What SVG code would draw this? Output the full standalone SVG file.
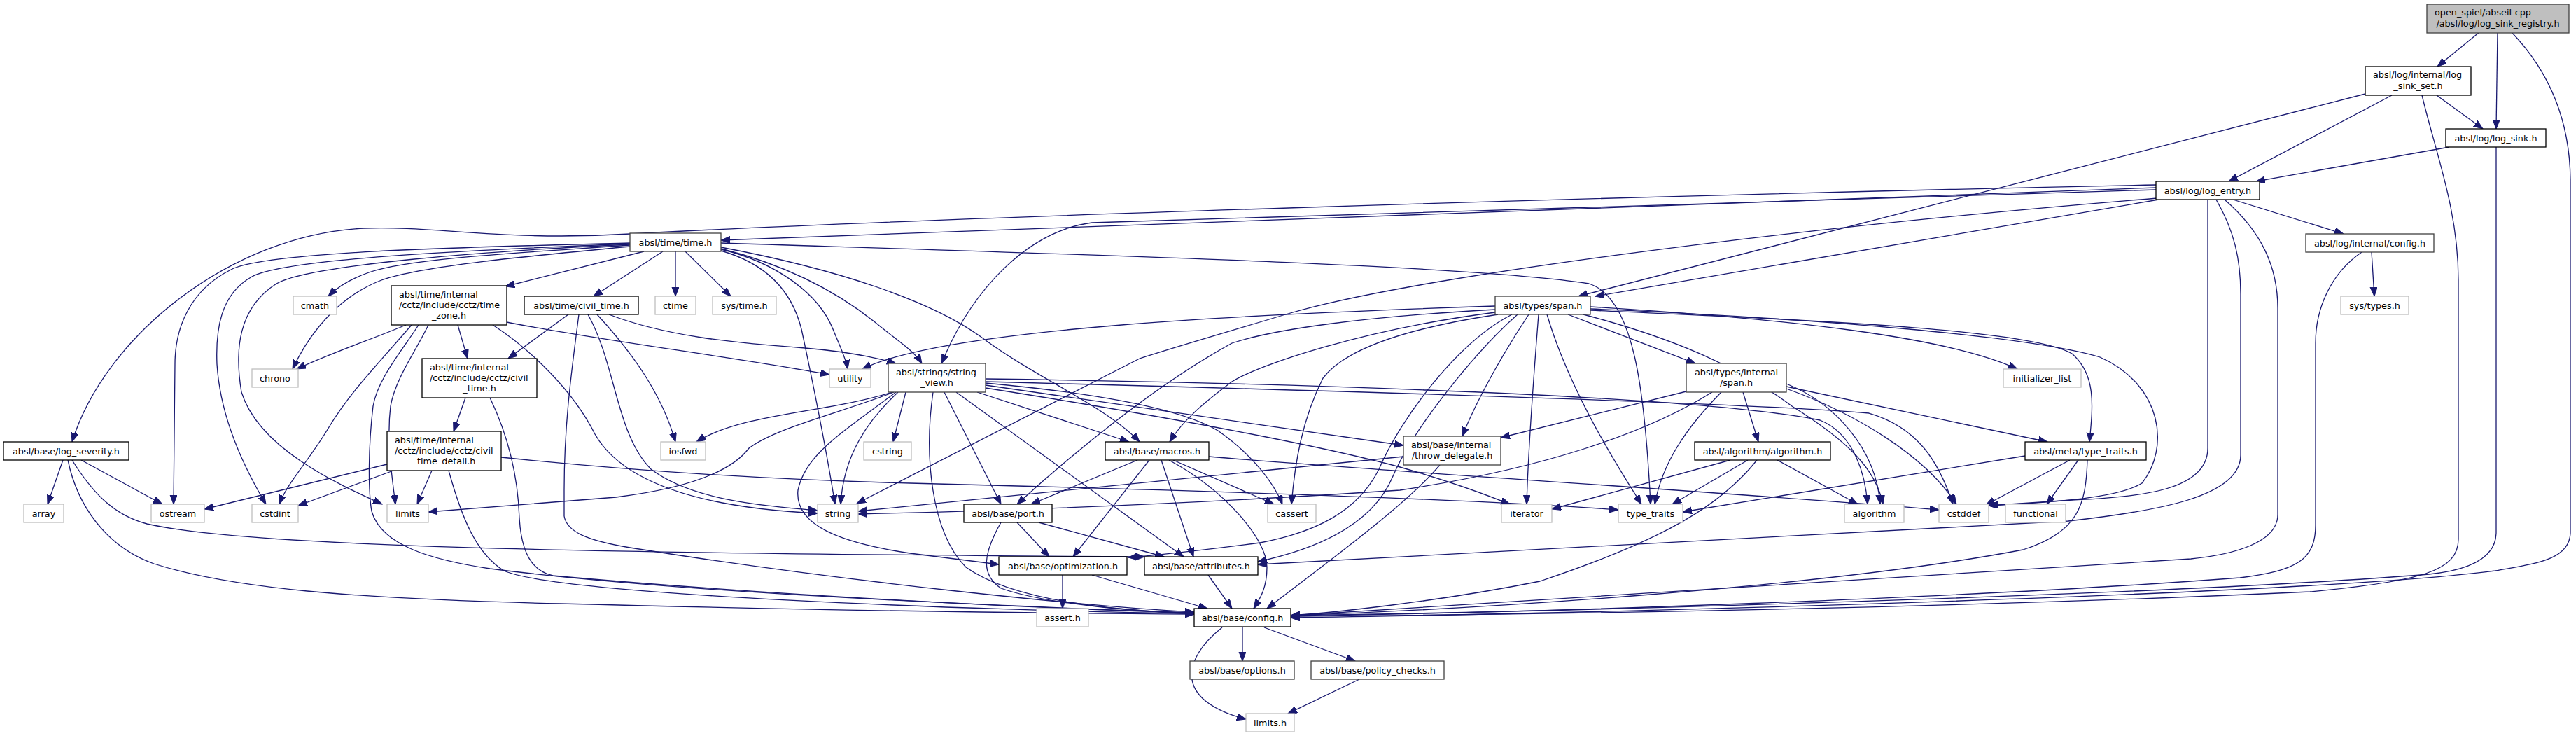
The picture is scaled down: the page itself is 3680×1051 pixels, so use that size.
<svg xmlns="http://www.w3.org/2000/svg" width="3680" height="1051" viewBox="0 0 3680 1051">
<style>
rect{fill:#fff;stroke:#000;stroke-width:1.3}
.g rect{stroke:#404040}
.s rect{stroke:#bfbfbf}
.r rect{fill:#bfbfbf;stroke:#404040}
text{font-family:"DejaVu Sans",sans-serif;font-size:12.8px;fill:#000}
.c{text-anchor:middle}
#edges path{fill:none;stroke:#191970;stroke-width:1.3;marker-end:url(#ah)}
</style>
<defs>
<marker id="ah" markerUnits="userSpaceOnUse" markerWidth="14" markerHeight="11" refX="13" refY="5" orient="auto">
<path d="M0,0 L13,5 L0,10 z" fill="#191970" stroke="#191970" stroke-width="1"/>
</marker>
</defs>
<rect x="0" y="0" width="3680" height="1051" style="fill:#fff;stroke:none"/>
<g id="edges">
<path d="M3542,46 L3482,95"/>
<path d="M3568,46 L3566,184"/>
<path d="M3588,46 C3640,100 3672,170 3672,260 L3672,760 C3672,800 3620,805 3565,815 C3300,850 2200,878 1844,882"/>
<path d="M3379,134 L2255,423"/>
<path d="M3417,136 L3184,259"/>
<path d="M3481,136 L3547,184"/>
<path d="M3460,136 C3480,220 3512,300 3512,400 L3512,770 C3512,815 3460,830 3300,845 C2800,868 2200,878 1844,880"/>
<path d="M3499,210 L3223,259"/>
<path d="M3566,210 L3566,760 C3566,800 3520,815 3470,820 C3100,850 2200,874 1844,879"/>
<path d="M3190,285 L3348,334"/>
<path d="M3084,285 L2279,423"/>
<path d="M3154,285 L3154,640 C3154,700 3060,710 2960,714 L2841,722"/>
<path d="M3166,285 C3192,330 3201,370 3201,420 L3201,650 C3201,710 3080,730 2955,744 L1797,806"/>
<path d="M3178,285 C3230,330 3254,380 3254,440 L3254,735 C3254,775 3190,792 3130,798 L1844,879"/>
<path d="M3080,268 L1030,343"/>
<path d="M3080,264 C2300,280 1300,312 900,334 C720,345 620,322 520,326 C330,335 150,480 103,631"/>
<path d="M3080,271 L1560,318 C1470,330 1390,410 1345,519"/>
<path d="M3082,283 C2500,330 2000,400 1840,448 C1750,475 1680,495 1628,512 L1224,719"/>
<path d="M3388,360 L3392,423"/>
<path d="M3374,360 C3330,390 3308,440 3308,490 L3308,750 C3308,800 3280,815 3200,825 C2800,855 2200,874 1844,880"/>
<path d="M920,359 L722,409"/>
<path d="M947,359 L848,423"/>
<path d="M965,359 L965,423"/>
<path d="M979,359 L1044,423"/>
<path d="M900,350 C760,360 590,368 530,388 C500,398 482,410 469,423"/>
<path d="M900,352 C760,365 600,380 545,400 C480,425 440,480 418,527"/>
<path d="M900,347 C700,352 380,358 330,385 C270,415 250,470 250,520 L248,720"/>
<path d="M900,348 C700,356 410,368 360,395 C315,420 308,470 310,520 C315,600 350,670 380,720"/>
<path d="M900,349 C700,358 440,378 395,405 C340,440 335,500 345,560 C370,640 480,690 546,720"/>
<path d="M1030,358 C1090,375 1130,410 1145,470 C1160,540 1180,640 1193,720"/>
<path d="M1030,356 C1110,375 1170,420 1190,470 C1200,495 1208,510 1211,527"/>
<path d="M1030,355 C1130,380 1200,420 1250,460 C1280,485 1305,500 1317,519"/>
<path d="M1030,353 C1200,385 1330,430 1400,480 C1480,540 1580,580 1628,631"/>
<path d="M1030,347 C1500,362 2100,378 2270,405 C2335,425 2350,560 2358,720"/>
<path d="M812,449 L726,512"/>
<path d="M827,449 C818,520 806,600 806,700 L806,737 C810,760 840,772 900,782 C1200,830 1550,866 1706,874"/>
<path d="M840,449 C880,520 880,620 930,670 C990,715 1090,722 1168,729"/>
<path d="M853,449 C900,500 945,560 965,631"/>
<path d="M870,449 C950,480 1050,490 1150,497 C1210,502 1250,510 1280,519"/>
<path d="M580,464 C530,485 470,505 424,527"/>
<path d="M588,464 C540,520 500,560 470,610 C440,660 410,690 399,720"/>
<path d="M612,464 C595,500 565,540 558,580 C552,630 560,680 565,720"/>
<path d="M598,464 C575,500 540,540 533,580 C526,640 526,700 531,730 C545,780 620,800 700,812 C1000,850 1500,868 1706,875"/>
<path d="M724,460 C850,485 1050,510 1185,535"/>
<path d="M704,464 C760,500 820,560 850,620 C890,690 1000,725 1168,733"/>
<path d="M654,464 L668,512"/>
<path d="M665,568 L648,616"/>
<path d="M700,568 C725,620 740,680 742,740 C745,790 760,815 790,822 C1100,850 1500,870 1706,875"/>
<path d="M553,663 L292,727"/>
<path d="M562,672 L426,722"/>
<path d="M617,672 L596,720"/>
<path d="M641,672 C660,740 680,790 720,815 C800,850 1400,872 1706,876"/>
<path d="M716,653 C900,672 1100,685 1300,690 C1700,700 2100,712 2312,728"/>
<path d="M90,657 L68,720"/>
<path d="M116,657 L232,720"/>
<path d="M103,657 C130,700 160,735 210,748 C350,780 800,790 1635,795"/>
<path d="M97,657 C110,720 150,780 220,805 C330,840 500,855 800,862 C1200,872 1500,876 1706,877"/>
<path d="M1408,541 C1700,545 2400,560 2600,600 C2650,620 2665,680 2668,720"/>
<path d="M1408,545 C1800,555 2500,575 2670,590 C2740,610 2770,660 2790,720"/>
<path d="M1275,560 C1180,590 1060,590 995,631"/>
<path d="M1277,560 C1200,590 1110,610 1070,640 C1040,680 960,700 880,710 C750,720 680,725 612,731"/>
<path d="M1294,560 L1276,631"/>
<path d="M1283,560 C1240,600 1205,650 1201,720"/>
<path d="M1280,560 C1200,620 1150,650 1140,700 C1135,750 1200,775 1300,790 L1427,806"/>
<path d="M1396,560 L1613,631"/>
<path d="M1349,560 L1430,720"/>
<path d="M1366,560 L1691,795"/>
<path d="M1333,560 C1320,650 1330,760 1380,810 C1450,860 1600,872 1706,876"/>
<path d="M1408,550 L2005,636"/>
<path d="M1408,547 C1550,560 1680,580 1740,615 C1790,650 1820,690 1832,720"/>
<path d="M1408,554 C1700,600 1900,640 2000,667 C2080,690 2120,705 2157,720"/>
<path d="M2136,437 C1800,448 1350,468 1232,527"/>
<path d="M2136,442 C1950,452 1820,470 1760,490 C1650,550 1530,650 1453,720"/>
<path d="M2136,446 C1950,470 1800,520 1760,545 C1720,575 1690,600 1671,631"/>
<path d="M2140,449 C2000,470 1920,500 1890,540 C1860,600 1850,660 1845,720"/>
<path d="M2160,449 C2080,490 2000,600 1970,670 C1940,730 1880,760 1800,775 C1700,788 1660,792 1612,796"/>
<path d="M2168,449 C2110,500 2020,610 1990,680 C1965,740 1900,780 1797,802"/>
<path d="M2184,449 C2150,500 2110,570 2089,623"/>
<path d="M2198,449 C2190,550 2183,650 2181,720"/>
<path d="M2210,449 C2240,550 2300,650 2345,720"/>
<path d="M2240,449 L2422,519"/>
<path d="M2262,449 C2380,480 2480,520 2560,580 C2640,630 2680,670 2690,720"/>
<path d="M2272,441 C2600,455 2900,480 3000,510 C3090,550 3100,640 3060,690 C3020,715 2900,718 2841,722"/>
<path d="M2272,438 C2550,455 2780,480 2882,527"/>
<path d="M2272,443 C2600,458 2900,470 2960,505 C2995,535 2990,580 2985,631"/>
<path d="M2409,559 L2144,625"/>
<path d="M2446,560 C2350,620 2200,670 2000,700 C1700,720 1400,730 1226,734"/>
<path d="M2459,560 C2410,610 2375,660 2364,720"/>
<path d="M2490,560 L2512,631"/>
<path d="M2552,548 C2620,575 2680,640 2686,720"/>
<path d="M2552,555 C2650,590 2750,650 2795,720"/>
<path d="M2552,552 L2925,631"/>
<path d="M2472,657 L2217,727"/>
<path d="M2497,657 L2389,720"/>
<path d="M2539,657 L2654,720"/>
<path d="M2510,657 C2460,720 2380,770 2200,830 C2050,860 1900,875 1844,879"/>
<path d="M2893,651 L2404,731"/>
<path d="M2957,657 L2837,721"/>
<path d="M2969,657 L2924,720"/>
<path d="M2982,657 C2980,720 2970,760 2890,785 C2600,840 2100,870 1844,879"/>
<path d="M2005,652 L1226,730"/>
<path d="M2057,664 C2010,720 1900,800 1810,869"/>
<path d="M1676,657 L1820,720"/>
<path d="M1727,652 C2000,675 2500,705 2770,728"/>
<path d="M1659,657 L1705,795"/>
<path d="M1670,657 C1750,700 1810,770 1810,810 C1810,840 1800,855 1791,869"/>
<path d="M1642,657 L1533,795"/>
<path d="M1625,657 L1473,720"/>
<path d="M1453,746 L1499,795"/>
<path d="M1484,746 L1663,795"/>
<path d="M1430,746 C1405,790 1400,820 1430,840 C1500,865 1640,873 1706,877"/>
<path d="M1518,821 L1518,869"/>
<path d="M1560,821 L1725,869"/>
<path d="M1726,821 L1760,869"/>
<path d="M1746,896 C1690,940 1675,1000 1780,1027"/>
<path d="M1775,896 L1775,944"/>
<path d="M1806,896 L1936,944"/>
<path d="M1942,970 L1840,1019"/>
</g>
<g id="n_root" class="r"><rect x="3467" y="6" width="203" height="41"/><text x="3478" y="22">open_spiel/abseil-cpp</text><text x="3568.5" y="37.5" class="c">/absl/log/log_sink_registry.h</text></g>
<g id="n_log_sink_set"><rect x="3379" y="95" width="151" height="41"/><text x="3390" y="111">absl/log/internal/log</text><text x="3454.5" y="126.5" class="c">_sink_set.h</text></g>
<g id="n_log_sink"><rect x="3494" y="184" width="143" height="26"/><text x="3565.5" y="201.5" class="c">absl/log/log_sink.h</text></g>
<g id="n_log_entry"><rect x="3080" y="259" width="148" height="26"/><text x="3154" y="276.5" class="c">absl/log/log_entry.h</text></g>
<g id="n_log_internal_config" class="g"><rect x="3294" y="334" width="183" height="26"/><text x="3385.5" y="351.5" class="c">absl/log/internal/config.h</text></g>
<g id="n_sys_types" class="s"><rect x="3344" y="423" width="97" height="26"/><text x="3392.5" y="440.5" class="c">sys/types.h</text></g>
<g id="n_time" class="g"><rect x="900" y="333" width="130" height="26"/><text x="965" y="350.5" class="c">absl/time/time.h</text></g>
<g id="n_span" class="g"><rect x="2136" y="423" width="136" height="26"/><text x="2204" y="440.5" class="c">absl/types/span.h</text></g>
<g id="n_civil_time"><rect x="749" y="423" width="163" height="26"/><text x="830.5" y="440.5" class="c">absl/time/civil_time.h</text></g>
<g id="n_ctime" class="s"><rect x="936" y="423" width="58" height="26"/><text x="965" y="440.5" class="c">ctime</text></g>
<g id="n_sys_time" class="s"><rect x="1018" y="423" width="91" height="26"/><text x="1063.5" y="440.5" class="c">sys/time.h</text></g>
<g id="n_cmath" class="s"><rect x="419" y="423" width="62" height="26"/><text x="450" y="440.5" class="c">cmath</text></g>
<g id="n_time_zone"><rect x="559" y="408" width="165" height="56"/><text x="570" y="424.5">absl/time/internal</text><text x="570" y="439.5">/cctz/include/cctz/time</text><text x="641.5" y="454.5" class="c">_zone.h</text></g>
<g id="n_chrono" class="s"><rect x="360" y="527" width="66" height="26"/><text x="393" y="544.5" class="c">chrono</text></g>
<g id="n_utility" class="s"><rect x="1185" y="527" width="59" height="26"/><text x="1214.5" y="544.5" class="c">utility</text></g>
<g id="n_initializer_list" class="s"><rect x="2862" y="527" width="111" height="26"/><text x="2917.5" y="544.5" class="c">initializer_list</text></g>
<g id="n_cctz_civil_time"><rect x="603" y="512" width="164" height="56"/><text x="614" y="528.5">absl/time/internal</text><text x="614" y="543.5">/cctz/include/cctz/civil</text><text x="685" y="558.5" class="c">_time.h</text></g>
<g id="n_string_view" class="g"><rect x="1269" y="519" width="139" height="41"/><text x="1280" y="535.5">absl/strings/string</text><text x="1338.5" y="550.5" class="c">_view.h</text></g>
<g id="n_internal_span" class="g"><rect x="2409" y="519" width="143" height="41"/><text x="2421" y="535.5">absl/types/internal</text><text x="2480.5" y="550.5" class="c">/span.h</text></g>
<g id="n_civil_time_detail"><rect x="553" y="616" width="163" height="56"/><text x="564" y="632.5">absl/time/internal</text><text x="564" y="647.5">/cctz/include/cctz/civil</text><text x="634.5" y="662.5" class="c">_time_detail.h</text></g>
<g id="n_log_severity"><rect x="5" y="631" width="179" height="26"/><text x="94.5" y="648.5" class="c">absl/base/log_severity.h</text></g>
<g id="n_iosfwd" class="s"><rect x="944" y="631" width="64" height="26"/><text x="976" y="648.5" class="c">iosfwd</text></g>
<g id="n_cstring" class="s"><rect x="1234" y="631" width="68" height="26"/><text x="1268" y="648.5" class="c">cstring</text></g>
<g id="n_macros"><rect x="1579" y="631" width="148" height="26"/><text x="1653" y="648.5" class="c">absl/base/macros.h</text></g>
<g id="n_throw_delegate" class="g"><rect x="2005" y="623" width="139" height="41"/><text x="2016" y="639.5">absl/base/internal</text><text x="2074.5" y="654.5" class="c">/throw_delegate.h</text></g>
<g id="n_algorithm_h"><rect x="2421" y="631" width="194" height="26"/><text x="2518" y="648.5" class="c">absl/algorithm/algorithm.h</text></g>
<g id="n_meta_type_traits"><rect x="2893" y="631" width="173" height="26"/><text x="2979.5" y="648.5" class="c">absl/meta/type_traits.h</text></g>
<g id="n_array" class="s"><rect x="34" y="720" width="57" height="26"/><text x="62.5" y="737.5" class="c">array</text></g>
<g id="n_ostream" class="s"><rect x="216" y="720" width="76" height="26"/><text x="254" y="737.5" class="c">ostream</text></g>
<g id="n_cstdint" class="s"><rect x="360" y="720" width="66" height="26"/><text x="393" y="737.5" class="c">cstdint</text></g>
<g id="n_limits" class="s"><rect x="553" y="720" width="59" height="26"/><text x="582.5" y="737.5" class="c">limits</text></g>
<g id="n_string" class="s"><rect x="1168" y="720" width="58" height="26"/><text x="1197" y="737.5" class="c">string</text></g>
<g id="n_port"><rect x="1377" y="720" width="126" height="26"/><text x="1440" y="737.5" class="c">absl/base/port.h</text></g>
<g id="n_cassert" class="s"><rect x="1811" y="720" width="69" height="26"/><text x="1845.5" y="737.5" class="c">cassert</text></g>
<g id="n_iterator" class="s"><rect x="2145" y="720" width="72" height="26"/><text x="2181" y="737.5" class="c">iterator</text></g>
<g id="n_type_traits" class="s"><rect x="2312" y="720" width="92" height="26"/><text x="2358" y="737.5" class="c">type_traits</text></g>
<g id="n_algorithm" class="s"><rect x="2635" y="720" width="85" height="26"/><text x="2677.5" y="737.5" class="c">algorithm</text></g>
<g id="n_cstddef" class="s"><rect x="2770" y="720" width="71" height="26"/><text x="2805.5" y="737.5" class="c">cstddef</text></g>
<g id="n_functional" class="s"><rect x="2865" y="720" width="86" height="26"/><text x="2908" y="737.5" class="c">functional</text></g>
<g id="n_optimization"><rect x="1427" y="795" width="183" height="26"/><text x="1518.5" y="812.5" class="c">absl/base/optimization.h</text></g>
<g id="n_attributes"><rect x="1635" y="795" width="162" height="26"/><text x="1716" y="812.5" class="c">absl/base/attributes.h</text></g>
<g id="n_assert_h" class="s"><rect x="1481" y="869" width="74" height="26"/><text x="1518" y="886.5" class="c">assert.h</text></g>
<g id="n_config"><rect x="1706" y="869" width="138" height="26"/><text x="1775" y="886.5" class="c">absl/base/config.h</text></g>
<g id="n_options" class="g"><rect x="1700" y="944" width="149" height="26"/><text x="1774.5" y="961.5" class="c">absl/base/options.h</text></g>
<g id="n_policy_checks" class="g"><rect x="1873" y="944" width="190" height="26"/><text x="1968" y="961.5" class="c">absl/base/policy_checks.h</text></g>
<g id="n_limits_h" class="s"><rect x="1780" y="1019" width="69" height="26"/><text x="1814.5" y="1036.5" class="c">limits.h</text></g>
</svg>
